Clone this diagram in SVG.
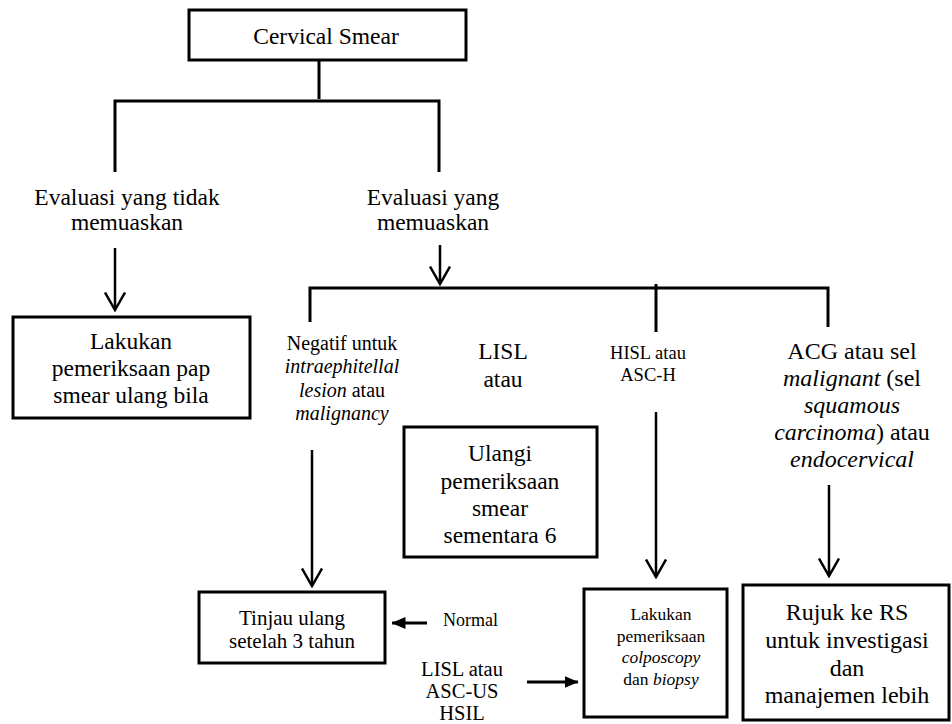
<svg xmlns="http://www.w3.org/2000/svg" width="952" height="724" viewBox="0 0 952 724">
<style>
.box{fill:#fff;stroke:#000;stroke-width:3}
.ln{fill:none;stroke:#000;stroke-width:3}
.ar{fill:none;stroke:#000;stroke-width:2.5}
.t{fill:#000;text-anchor:middle}
.i{font-style:italic}
</style>
<defs>
<marker id="open" markerUnits="userSpaceOnUse" viewBox="0 0 22 20" markerWidth="22" markerHeight="20" refX="11" refY="18.5" orient="0">
<path d="M1,1 L11,18.5 L21,1" fill="none" stroke="#000" stroke-width="2.5"/>
</marker>
<marker id="solid" markerUnits="userSpaceOnUse" viewBox="0 0 14 12" markerWidth="14" markerHeight="12" refX="13.5" refY="6" orient="auto">
<path d="M0,0 L14,6 L0,12 Z" fill="#000"/>
</marker>
</defs>
<g id="connectors">
<path class="ln" d="M319,60 V99 M115,172 V101 H439 V172"/>
<line class="ar" x1="115" y1="248" x2="115" y2="310" marker-end="url(#open)"/>
<line class="ar" x1="440" y1="245" x2="440" y2="284" marker-end="url(#open)"/>
<path class="ln" d="M310,322 V288 H828 V327 M656,284 V332"/>
<line class="ar" x1="312" y1="450" x2="312" y2="586" marker-end="url(#open)"/>
<line class="ar" x1="656" y1="412" x2="656" y2="577" marker-end="url(#open)"/>
<line class="ar" x1="829" y1="485" x2="829" y2="576" marker-end="url(#open)"/>
<line class="ln" x1="427" y1="623" x2="392" y2="623" marker-end="url(#solid)"/>
<line class="ln" x1="527" y1="682" x2="578" y2="682" marker-end="url(#solid)"/>
</g>
<g class="t" font-family="'Liberation Serif', 'Times New Roman', Times, serif">
<g id="cervical-smear">
<rect class="box" x="189" y="10" width="277" height="50"/>
<text x="326" y="44" font-size="23.5">Cervical Smear</text>
</g>
<g id="eval-tidak">
<text x="127" y="205" font-size="23.5">Evaluasi yang tidak</text>
<text x="127" y="230" font-size="23.5">memuaskan</text>
</g>
<g id="eval-memuaskan">
<text x="433" y="205" font-size="23.5">Evaluasi yang</text>
<text x="433" y="230" font-size="23.5">memuaskan</text>
</g>
<g id="lakukan-pap">
<rect class="box" x="13" y="317" width="237" height="101"/>
<text x="131" y="349" font-size="23.5">Lakukan</text>
<text x="131" y="376" font-size="23.5">pemeriksaan pap</text>
<text x="131" y="403" font-size="23.5">smear ulang bila</text>
</g>
<g id="negatif">
<text x="342" y="350" font-size="20">Negatif untuk</text>
<text x="342" y="373" font-size="20" class="i">intraephitellal</text>
<text x="342" y="397" font-size="20"><tspan class="i">lesion</tspan> atau</text>
<text x="342" y="420" font-size="20" class="i">malignancy</text>
</g>
<g id="lisl">
<text x="503" y="359" font-size="23.5">LISL</text>
<text x="503" y="387" font-size="23.5">atau</text>
</g>
<g id="hisl">
<text x="648" y="359" font-size="18.5">HISL atau</text>
<text x="648" y="381" font-size="18.5">ASC-H</text>
</g>
<g id="acg">
<text x="852" y="359" font-size="24">ACG atau sel</text>
<text x="852" y="386" font-size="24"><tspan class="i">malignant</tspan> (sel</text>
<text x="852" y="413" font-size="24" class="i">squamous</text>
<text x="852" y="440" font-size="24"><tspan class="i">carcinoma</tspan>) atau</text>
<text x="852" y="467" font-size="24" class="i">endocervical</text>
</g>
<g id="ulangi">
<rect class="box" x="404" y="427" width="193" height="130"/>
<text x="500" y="461" font-size="23.5">Ulangi</text>
<text x="500" y="489" font-size="23.5">pemeriksaan</text>
<text x="500" y="516" font-size="23.5">smear</text>
<text x="500" y="543" font-size="23.5">sementara 6</text>
</g>
<g id="tinjau">
<rect class="box" x="199" y="592" width="186" height="71"/>
<text x="292" y="625" font-size="21">Tinjau ulang</text>
<text x="292" y="648" font-size="21">setelah 3 tahun</text>
</g>
<g id="normal">
<text x="443" y="626" font-size="18" text-anchor="start">Normal</text>
</g>
<g id="lisl-ascus">
<text x="462" y="676" font-size="20.5">LISL atau</text>
<text x="462" y="698" font-size="20.5">ASC-US</text>
<text x="462" y="720" font-size="20.5">HSIL</text>
</g>
<g id="colposcopy">
<rect class="box" x="584" y="589" width="143" height="128"/>
<text x="661" y="620" font-size="17.5">Lakukan</text>
<text x="661" y="642" font-size="17.5">pemeriksaan</text>
<text x="661" y="663" font-size="17.5" class="i">colposcopy</text>
<text x="661" y="685" font-size="17.5">dan <tspan class="i">biopsy</tspan></text>
</g>
<g id="rujuk">
<rect class="box" x="743" y="585" width="206" height="135"/>
<text x="847" y="620" font-size="24">Rujuk ke RS</text>
<text x="847" y="648" font-size="24">untuk investigasi</text>
<text x="847" y="676" font-size="24">dan</text>
<text x="847" y="703" font-size="24">manajemen lebih</text>
</g>
</g>
</svg>
